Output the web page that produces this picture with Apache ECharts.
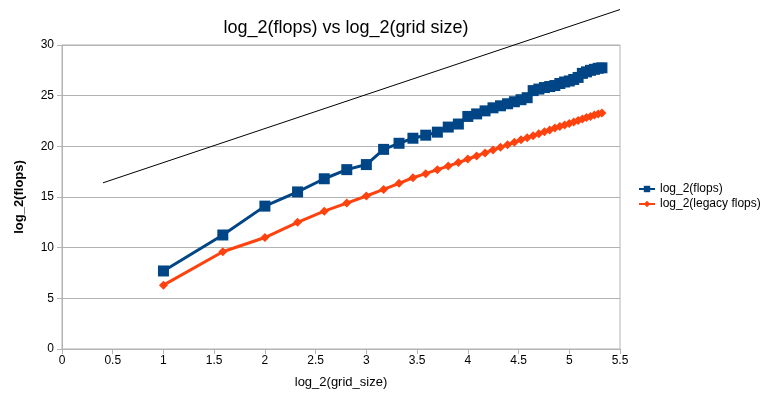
<!DOCTYPE html>
<html>
<head>
<meta charset="utf-8">
<script src="https://cdn.jsdelivr.net/npm/echarts@6/dist/echarts.min.js"></script>
<style>
  html, body { margin: 0; padding: 0; background: #fff; }
  #chart { width: 760px; height: 394px; }
</style>
</head>
<body>
<div id="chart"></div>
<script>
// log_2(grid size), n = 2..40
var gridSize = [1, 1.585, 2, 2.322, 2.585, 2.807, 3, 3.17, 3.322, 3.459, 3.585, 3.7, 3.807, 3.907,
  4, 4.087, 4.17, 4.248, 4.322, 4.392, 4.459, 4.524, 4.585, 4.644, 4.7, 4.755, 4.807, 4.858,
  4.907, 4.954, 5, 5.044, 5.087, 5.129, 5.17, 5.209, 5.248, 5.285, 5.322];

var flops = [7.7, 11.25, 14.1, 15.5, 16.8, 17.7, 18.2, 19.7, 20.3, 20.8, 21.1, 21.4, 21.9, 22.2,
  22.95, 23.2, 23.5, 23.8, 24.0, 24.2, 24.4, 24.6, 24.8, 25.5, 25.65, 25.8, 25.9, 26.0,
  26.2, 26.35, 26.45, 26.6, 26.8, 27.2, 27.35, 27.5, 27.6, 27.7, 27.75];

var legacyFlops = [6.3, 9.6, 11.0, 12.5, 13.6, 14.4, 15.1, 15.75, 16.35, 16.9, 17.3, 17.7, 18.05, 18.4,
  18.75, 19.05, 19.35, 19.65, 19.9, 20.15, 20.4, 20.65, 20.85, 21.05, 21.25, 21.45, 21.6, 21.8,
  21.95, 22.1, 22.25, 22.4, 22.55, 22.7, 22.85, 22.95, 23.1, 23.2, 23.3];

// reference line (start / end points)
var refLineX = [0.404, 5.5];
var refLineY = [16.4, 33.5];

var chart = echarts.init(document.getElementById('chart'));
var font = 'Liberation Sans, Arial, sans-serif';

function pairs(xs, ys) {
  return xs.map(function (x, i) { return [x, ys[i]]; });
}

var option = {
  animation: false,
  textStyle: { fontFamily: font },
  title: {
    text: 'log_2(flops) vs log_2(grid size)',
    left: 341,
    textAlign: 'center',
    top: 14,
    textStyle: { fontSize: 18, fontWeight: 'normal', color: '#000', fontFamily: font }
  },
  legend: {
    orient: 'vertical',
    left: 633,
    top: 178,
    itemWidth: 16,
    itemHeight: 8,
    itemGap: 3,
    textStyle: { fontSize: 12, color: '#000', fontFamily: font },
    data: ['log_2(flops)', 'log_2(legacy flops)']
  },
  grid: { left: 62, right: 140, top: 45, bottom: 45, show: true, borderColor: '#b3b3b3', borderWidth: 1 },
  xAxis: {
    type: 'value',
    min: 0, max: 5.5, interval: 0.5,
    name: 'log_2(grid_size)',
    nameLocation: 'middle',
    nameGap: 27,
    nameTextStyle: { fontSize: 13, color: '#000' },
    axisLine: { show: true, lineStyle: { color: '#b3b3b3' } },
    axisTick: { show: true, length: 5, lineStyle: { color: '#b3b3b3' } },
    axisLabel: { fontSize: 12, color: '#000', margin: 6 },
    splitLine: { show: false }
  },
  yAxis: {
    type: 'value',
    min: 0, max: 30, interval: 5,
    name: 'log_2(flops)',
    nameLocation: 'middle',
    nameGap: 36,
    nameTextStyle: { fontSize: 13, fontWeight: 'bold', color: '#000' },
    axisLine: { show: true, lineStyle: { color: '#b3b3b3' } },
    axisTick: { show: true, length: 5, lineStyle: { color: '#b3b3b3' } },
    axisLabel: { fontSize: 12, color: '#000', margin: 8 },
    splitLine: { show: true, lineStyle: { color: '#b3b3b3' } }
  },
  series: [
    {
      name: 'ref',
      type: 'line',
      clip: false,
      silent: true,
      showSymbol: false,
      symbol: 'none',
      lineStyle: { color: '#000', width: 1 },
      data: pairs(refLineX, refLineY),
      z: 1
    },
    {
      name: 'log_2(flops)',
      type: 'line',
      symbol: 'rect',
      symbolSize: 11,
      itemStyle: { color: '#004586' },
      lineStyle: { color: '#004586', width: 3 },
      data: pairs(gridSize, flops),
      z: 3
    },
    {
      name: 'log_2(legacy flops)',
      type: 'line',
      symbol: 'diamond',
      symbolSize: 9,
      itemStyle: { color: '#ff420e' },
      lineStyle: { color: '#ff420e', width: 3 },
      data: pairs(gridSize, legacyFlops),
      z: 2
    }
  ]
};

chart.setOption(option);
window.addEventListener('resize', function () { chart.resize(); });
</script>
</body>
</html>
